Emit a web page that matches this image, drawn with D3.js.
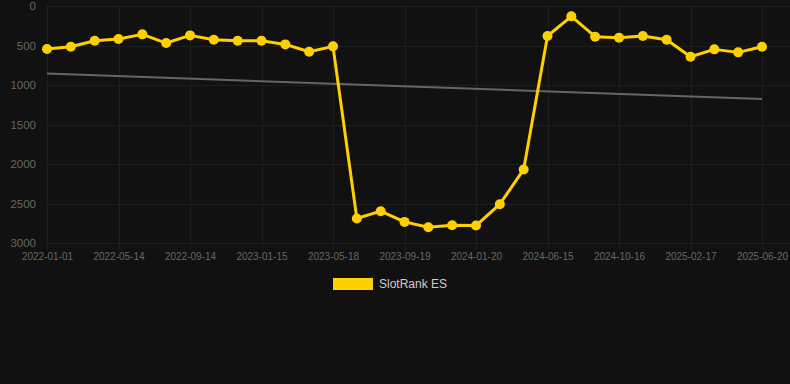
<!DOCTYPE html>
<html>
<head>
<meta charset="utf-8">
<script src="https://cdn.jsdelivr.net/npm/d3@7"></script>
<style>
  html, body { margin: 0; padding: 0; background: #111111; }
  svg { display: block; font-family: Arial, "Liberation Sans", sans-serif; }
</style>
</head>
<body>
<svg width="790" height="384"></svg>
<script>
var tickLabels = ['2022-01-01', '2022-05-14', '2022-09-14', '2023-01-15', '2023-05-18', '2023-09-19',
	'2024-01-20', '2024-06-15', '2024-10-16', '2025-02-17', '2025-06-20'];

var rankES = [545, 516, 440, 418, 359, 469, 372, 427, 440, 440, 486, 579, 511,
	2690, 2597, 2733, 2800, 2775, 2779, 2509, 2069,
	380, 131, 389, 402, 380, 427, 642, 549, 587, 516];

var trendEnds = [855, 1178];

var yTicks = [0, 500, 1000, 1500, 2000, 2500, 3000];

var svg = d3.select('svg');
var width = +svg.attr('width');

var x = d3.scalePoint()
	.domain(d3.range(rankES.length))
	.range([47, 762]);

var y = d3.scaleLinear()
	.domain([0, 3000])
	.range([6, 243]);

// grid
var grid = svg.append('g');
grid.selectAll('.hgrid')
	.data(yTicks)
	.enter().append('line')
	.attr('x1', 46).attr('x2', width)
	.attr('y1', function (d) { return Math.round(y(d)) + 0.5; })
	.attr('y2', function (d) { return Math.round(y(d)) + 0.5; })
	.attr('stroke', '#1e1e1e')
	.attr('stroke-width', 1);

var tickIdx = d3.range(0, rankES.length, 3);
grid.selectAll('.vgrid')
	.data(tickIdx)
	.enter().append('line')
	.attr('x1', function (d) { return Math.round(x(d)) + 0.5; })
	.attr('x2', function (d) { return Math.round(x(d)) + 0.5; })
	.attr('y1', 6).attr('y2', 250)
	.attr('stroke', '#1e1e1e')
	.attr('stroke-width', 1);

// axes
var yAxis = d3.axisLeft(y).tickValues(yTicks).tickSize(0).tickPadding(0).tickFormat(d3.format('d'));
svg.append('g')
	.attr('transform', 'translate(36,0)')
	.call(yAxis)
	.call(function (g) {
		g.select('.domain').remove();
		g.selectAll('.tick text').attr('fill', '#666').attr('font-size', 11.5).attr('font-family', 'Arial, "Liberation Sans", sans-serif');
	});

var xAxis = d3.axisBottom(x).tickValues(tickIdx).tickSize(0).tickPadding(0)
	.tickFormat(function (d, i) { return tickLabels[i]; });
svg.append('g')
	.attr('transform', 'translate(0,253)')
	.call(xAxis)
	.call(function (g) {
		g.select('.domain').remove();
		g.selectAll('.tick text').attr('fill', '#666').attr('font-size', 10).attr('font-family', 'Arial, "Liberation Sans", sans-serif');
	});

// trend line
svg.append('line')
	.attr('x1', x(0)).attr('x2', x(rankES.length - 1))
	.attr('y1', y(trendEnds[0])).attr('y2', y(trendEnds[1]))
	.attr('stroke', '#666')
	.attr('stroke-width', 2);

// series
var line = d3.line()
	.x(function (d, i) { return x(i); })
	.y(function (d) { return y(d); });

svg.append('path')
	.datum(rankES)
	.attr('d', line)
	.attr('fill', 'none')
	.attr('stroke', '#FFD000')
	.attr('stroke-width', 3)
	.attr('stroke-linejoin', 'round');

svg.selectAll('.dot')
	.data(rankES)
	.enter().append('circle')
	.attr('cx', function (d, i) { return x(i); })
	.attr('cy', function (d) { return y(d); })
	.attr('r', 5)
	.attr('fill', '#FFD000');

// legend
var legend = svg.append('g');
legend.append('rect')
	.attr('x', 333).attr('y', 278)
	.attr('width', 40).attr('height', 12)
	.attr('fill', '#FFD000');
legend.append('text')
	.attr('x', 379).attr('y', 284)
	.attr('dy', '0.35em')
	.attr('fill', '#ccc')
	.attr('font-size', 12)
	.text('SlotRank ES');
</script>
</body>
</html>
